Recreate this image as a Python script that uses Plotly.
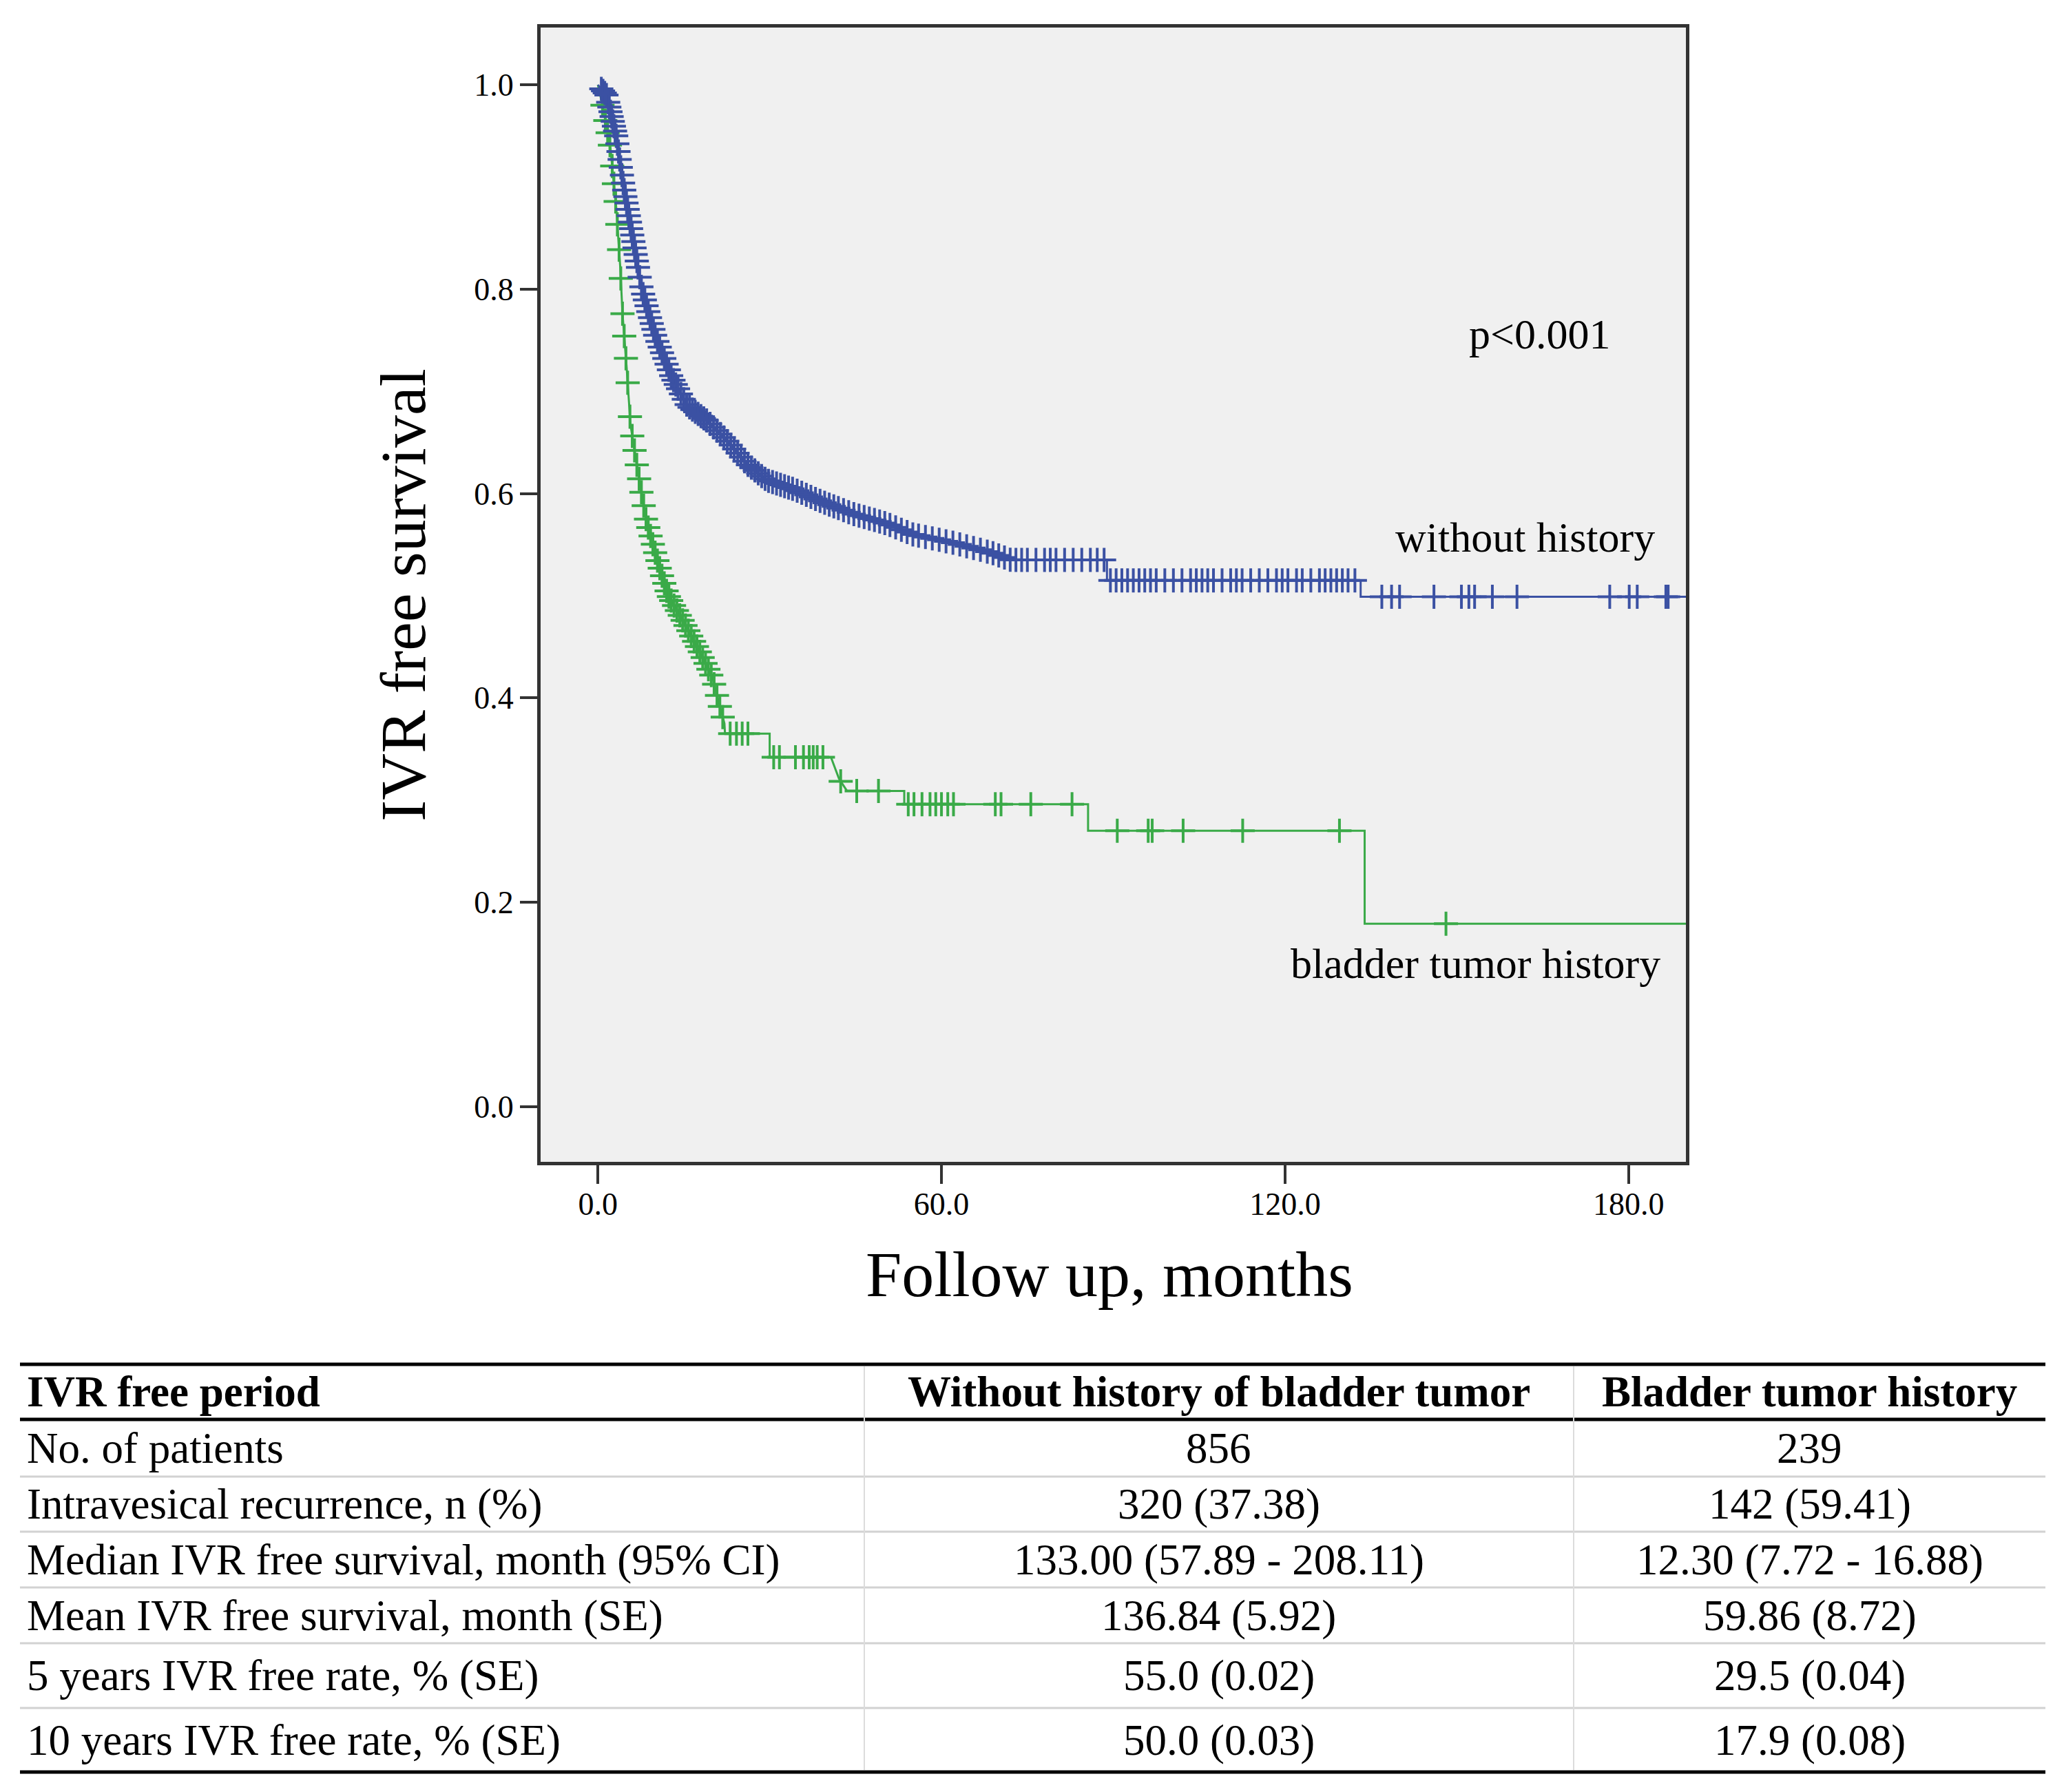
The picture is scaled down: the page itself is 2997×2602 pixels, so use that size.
import numpy as np
import plotly.graph_objects as go

# ---- survival curves (months, survival) ----
without_t = [0.0, 1.5, 3.2, 4.5, 6.0, 7.7, 10.1, 12.9, 15.6, 19.1, 22.5, 26.0, 29.5,
             34.3, 39.1, 44.6, 50.2, 55.0, 61.9, 68.8, 72.1, 88.9, 88.9, 133.2, 133.2, 190.0]
without_s = [1.0, 0.99, 0.95, 0.90, 0.853, 0.799, 0.753, 0.714, 0.686, 0.671, 0.652, 0.629, 0.613,
             0.604, 0.592, 0.580, 0.571, 0.560, 0.552, 0.542, 0.535, 0.535, 0.515, 0.515, 0.499, 0.499]

bladder_t = [0.0, 0.8, 2.2, 3.2, 3.9, 4.3, 5.0, 5.7, 7.0, 8.4, 10.1, 12.2, 15.0, 17.9, 20.0,
             21.0, 22.1, 22.2, 30.0, 30.0, 40.7, 42.1, 43.5, 53.5, 53.5, 85.6, 85.6,
             133.9, 133.9, 190.0]
bladder_s = [1.0, 0.98, 0.938, 0.88, 0.822, 0.776, 0.725, 0.667, 0.621, 0.575, 0.54, 0.501, 0.474,
             0.444, 0.42, 0.398, 0.375, 0.365, 0.365, 0.342, 0.342, 0.321, 0.309, 0.309, 0.296,
             0.296, 0.270, 0.270, 0.179, 0.179]

# censored observations (months)
without_censor = [
    0.6, 0.9, 1.2, 1.5, 1.8, 2.0, 2.2, 2.4, 2.6, 2.8, 3.0, 3.2, 3.4, 3.6, 3.8, 4.0, 4.2, 4.4,
    4.6, 4.8, 5.0, 5.2, 5.4, 5.6, 5.8, 6.0, 6.2, 6.4, 6.6, 6.8, 7.0, 7.3, 7.6, 7.9, 8.2, 8.5,
    8.8, 9.1, 9.4, 9.7, 10.0, 10.4, 10.8, 11.2, 11.6, 12.0, 12.4, 12.8, 13.2, 13.6, 14.0, 14.5,
    15.0, 15.5, 16.0, 16.5, 17.0, 17.5, 18.0, 18.5, 19.0, 19.6, 20.2, 20.8, 21.4, 22.0, 22.6,
    23.2, 23.8, 24.4, 25.0, 25.6, 26.2, 26.8, 27.4, 28.0, 28.6, 29.2, 29.8, 30.5, 31.2, 31.9,
    32.6, 33.3, 34.0, 34.8, 35.6, 36.4, 37.2, 38.0, 38.8, 39.6, 40.4, 41.2, 42.0, 42.9, 43.8,
    44.7, 45.6, 46.5, 47.4, 48.3, 49.2, 50.1, 51.0, 52.0, 53.0, 54.0, 55.0, 56.0, 57.2, 58.4,
    59.6, 60.8, 62.0, 63.2, 64.4, 65.6, 66.8, 68.0, 69.0, 70.0, 71.0, 72.0, 73.0, 74.0, 75.0,
    76.5, 78.0, 79.0, 80.0, 81.5, 83.0, 84.5, 86.0, 87.2, 88.4, 89.5, 90.5, 91.5, 92.5, 93.5,
    94.5, 95.5, 96.5, 97.5, 99.0, 100.5, 102.0, 103.5, 104.5, 105.5, 106.5, 107.5, 109.0,
    110.5, 111.5, 112.5, 114.0, 115.5, 117.0, 118.5, 119.5, 120.5, 122.0, 123.0, 124.5, 126.0,
    127.0, 128.0, 129.0, 130.0, 131.0, 132.2, 136.9, 138.6, 140.0, 146.0, 150.8, 152.1, 153.1,
    156.2, 160.5, 176.7, 180.1, 181.5, 186.5, 186.9,
]
bladder_censor = [
    0.8, 1.3, 1.7, 2.1, 2.5, 2.8, 3.1, 3.4, 3.7, 4.0, 4.3, 4.6, 4.9, 5.2, 5.6, 6.0, 6.4, 6.8,
    7.2, 7.6, 8.0, 8.4, 8.8, 9.2, 9.6, 10.0, 10.4, 10.8, 11.2, 11.6, 12.0, 12.4, 12.8, 13.3,
    13.8, 14.3, 14.8, 15.3, 15.8, 16.3, 16.8, 17.3, 17.8, 18.3, 18.8, 19.3, 19.8, 20.3, 20.8,
    21.3, 21.8, 23.1, 24.2, 25.2, 26.2, 30.7, 31.7, 34.5, 35.9, 36.9, 37.6, 38.3, 39.3, 42.4,
    45.2, 49.0, 54.2, 55.2, 56.6, 58.0, 59.0, 60.0, 61.1, 62.1, 69.4, 70.4, 75.6, 82.8, 90.7,
    96.1, 96.8, 102.2, 112.6, 129.5, 148.1,
]

# ---- table ----
headers = ["IVR free period", "Without history of bladder tumor", "Bladder tumor history"]
row_labels = ["No. of patients", "Intravesical recurrence, n (%)",
              "Median IVR free survival, month (95% CI)", "Mean IVR free survival, month (SE)",
              "5 years IVR free rate, % (SE)", "10 years IVR free rate, % (SE)"]
without_vals = ["856", "320 (37.38)", "133.00 (57.89 - 208.11)", "136.84 (5.92)",
                "55.0 (0.02)", "50.0 (0.03)"]
bladder_vals = ["239", "142 (59.41)", "12.30 (7.72 - 16.88)", "59.86 (8.72)",
                "29.5 (0.04)", "17.9 (0.08)"]

y_ticks = [0.0, 0.2, 0.4, 0.6, 0.8, 1.0]
x_ticks = [0, 60, 120, 180]

W, H = 2997, 2602
OFF = 8  # page body margin added by the browser
FONT = "Liberation Serif"
BLUE = "#3b51a3"
GREEN = "#3aaa48"


def px(x):
    return (x - OFF) / W


def py(y):
    return 1 - (y - OFF) / H


fig = go.Figure()

for t, s, cens, col in [(bladder_t, bladder_s, bladder_censor, GREEN),
                        (without_t, without_s, without_censor, BLUE)]:
    fig.add_trace(go.Scatter(x=t, y=s, mode="lines", line=dict(color=col, width=3),
                             hoverinfo="skip"))
    cy = np.interp(cens, t, s)
    fig.add_trace(go.Scatter(x=cens, y=cy, mode="markers",
                             marker=dict(symbol="cross-thin", size=25, color=col,
                                         line=dict(color=col, width=4)),
                             hoverinfo="skip"))

axis_common = dict(ticks="outside", tickwidth=4, tickcolor="#333", showgrid=False,
                   zeroline=False, showline=True, mirror=True, linecolor="#333",
                   linewidth=5, tickformat=".1f", tickfont=dict(size=46, family=FONT))

fig.update_layout(
    width=W, height=H, autosize=False,
    margin=dict(l=0, r=0, t=0, b=0),
    paper_bgcolor="white", plot_bgcolor="#f0f0f0",
    showlegend=False,
    font=dict(family=FONT, color="black"),
    xaxis=dict(domain=[px(785), px(2448)], range=[-10.0, 190.0], tickvals=x_ticks,
               ticklen=27, ticklabelstandoff=-10, **axis_common),
    yaxis=dict(domain=[py(1687), py(40)], range=[-0.054, 1.056], tickvals=y_ticks,
               ticklen=25, **axis_common),
)

# axis titles and in-plot labels
fig.add_annotation(x=px(1611), y=py(1850), xref="paper", yref="paper",
                   xanchor="center", yanchor="middle",
                   text="Follow up, months", showarrow=False,
                   font=dict(size=94, family=FONT))
fig.add_annotation(x=px(585), y=py(864), xref="paper", yref="paper",
                   xanchor="center", yanchor="middle",
                   text="IVR free survival", showarrow=False, textangle=-90,
                   font=dict(size=94, family=FONT))
for txt, tx, sy in [("p<0.001", 164.4, 0.756),
                    ("without history", 161.9, 0.557),
                    ("bladder tumor history", 153.3, 0.140)]:
    fig.add_annotation(x=tx, y=sy, text=txt, showarrow=False,
                       xanchor="center", yanchor="middle",
                       font=dict(size=62, family=FONT))

# ---- table drawn with shapes + annotations ----
row_edges = [1981, 2061, 2144, 2224, 2305, 2386, 2480, 2573]
col_edges = [29, 1255, 2285, 2970]

for i, y in enumerate(row_edges):
    thick = i in (0, 1, len(row_edges) - 1)
    fig.add_shape(type="line", xref="paper", yref="paper",
                  x0=px(col_edges[0]), x1=px(col_edges[-1]), y0=py(y), y1=py(y),
                  line=dict(color="black" if thick else "#d2d2d2", width=5 if thick else 3))
for x in col_edges[1:-1]:
    fig.add_shape(type="line", xref="paper", yref="paper",
                  x0=px(x), x1=px(x), y0=py(row_edges[0] + 3), y1=py(row_edges[-1] - 3),
                  line=dict(color="#dcdcdc", width=2))

rows = [headers] + [[a, b, c] for a, b, c in zip(row_labels, without_vals, bladder_vals)]
for r, cells in enumerate(rows):
    yc = (row_edges[r] + row_edges[r + 1]) / 2
    for c, txt in enumerate(cells):
        if c == 0:
            xpos, anchor = 37, "left"
        else:
            xpos, anchor = (col_edges[c] + col_edges[c + 1]) / 2, "center"
        fig.add_annotation(x=px(xpos), y=py(yc), xref="paper", yref="paper",
                           text=f"<b>{txt}</b>" if r == 0 else txt,
                           showarrow=False, xanchor=anchor, yanchor="middle",
                           font=dict(size=63, family=FONT))

fig.write_html("out.html")
